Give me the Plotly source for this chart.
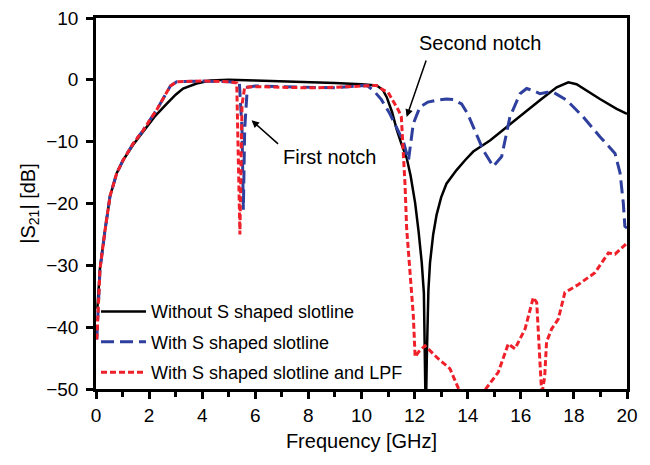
import plotly.graph_objects as go

# Without S shaped slotline
f_black = [0.05, 0.1, 0.15, 0.34, 0.53, 0.78, 1.02, 1.4, 1.77, 2.2, 2.66, 3.0, 3.28, 3.79, 4.3, 5.0,
           6.0, 7.0, 8.0, 9.0, 10.0, 10.57, 10.8, 10.95, 11.15, 11.33, 11.5, 11.7, 11.85, 12.02,
           12.15, 12.27, 12.35, 12.40, 12.42, 12.46, 12.52, 12.58, 12.7, 12.83, 13.0, 13.2, 13.58,
           13.9, 14.21, 14.84, 15.47, 16.09, 16.72, 17.35, 17.79, 18.1, 18.35, 18.98, 19.61, 20.0]
s_black = [-37, -33, -30.5, -24.3, -18.8, -15.1, -13, -10.5, -8.4, -6, -3.9, -2.4, -1.4, -0.6, -0.1, 0,
           -0.1, -0.2, -0.3, -0.5, -0.7, -0.9, -1.6, -2.8, -5.2, -8.1, -10.3, -12.6, -15.5, -19.9,
           -24.5, -29.6, -34.5, -45, -55, -45, -34, -29.6, -25, -21.8, -19, -16.8, -14.6,
           -13, -11.6, -9.8, -7.6, -5.5, -3.3, -1.2, -0.4, -0.7, -1.4, -3.1, -4.7, -5.5]

# With S shaped slotline
f_blue = [0.03, 0.08, 0.15, 0.34, 0.53, 0.78, 1.02, 1.4, 1.77, 2.28, 2.6, 2.8, 3.04, 4.0, 5.0, 5.4,
          5.5, 5.55, 5.6, 5.7, 6.0, 7.0, 8.0, 9.0, 9.5, 10.2, 10.45, 10.75, 11.07, 11.35, 11.58,
          11.77, 11.95, 12.2, 12.5, 12.83, 13.2, 13.46, 13.77, 14.0, 14.21, 14.59, 14.96, 15.28,
          15.59, 15.97, 16.22, 16.5, 16.72, 17.0, 17.22, 17.73, 18.35, 18.98, 19.55, 19.74, 19.86,
          19.92, 20.0]
s_blue = [-42, -36, -30.7, -24.3, -18.8, -15.1, -13, -10.3, -8.2, -4.9, -2.6, -1, -0.3, -0.2, -0.3, -0.5,
          -8, -21, -8, -1.2, -1, -1.1, -1.3, -1.3, -1.1, -0.9, -1.7, -3.2, -5.5, -8, -10,
          -13, -7.1, -4.4, -3.6, -3.3, -3.1, -3.2, -3.9, -5.5, -7.6, -11.4, -14, -12.4,
          -6, -2.25, -1.4, -1.8, -2.25, -2.0, -2.0, -3.3, -6, -9.2, -11.9, -15.1, -19.9,
          -23.7, -24]

# With S shaped slotline and LPF
f_red = [0.03, 0.08, 0.15, 0.34, 0.53, 0.78, 1.02, 1.4, 1.77, 2.28, 2.6, 2.8, 3.04, 4.0, 5.0, 5.3,
         5.42, 5.5, 5.6, 6.0, 7.0, 8.0, 9.0, 10.0, 10.57, 10.8, 11.0, 11.2, 11.39, 11.5, 11.58,
         11.64, 11.7, 11.83, 11.95, 12.02, 12.15, 12.39, 12.89, 13.33, 13.71, 14.59, 15.15,
         15.53, 15.78, 16.16, 16.47, 16.6, 16.72, 16.79, 16.9, 16.97, 17.16, 17.41, 17.66,
         18.17, 18.79, 19.3, 19.55, 20.0]
s_red = [-42, -36, -30.7, -24.3, -18.8, -15.1, -13, -10.3, -8.2, -4.9, -2.6, -1, -0.3, -0.2, -0.3, -0.5,
         -25, -4, -1.2, -1.1, -1.2, -1.3, -1.2, -1.0, -0.9, -1.6, -2.0, -3.5, -4.9, -6, -11.4,
         -17, -24, -31, -38, -44.8, -44, -43, -45.1, -46.7, -50.5, -50.5, -47.3,
         -42.7, -43.5, -40.3, -35.2, -36, -45, -51, -48, -42.4, -40.3, -38.7, -34.4,
         -33.1, -31.2, -28, -28.2, -26.4]

x_ticks = [0, 2, 4, 6, 8, 10, 12, 14, 16, 18, 20]
x_minor = [1, 3, 5, 7, 9, 11, 13, 15, 17, 19]
y_ticks = [-50, -40, -30, -20, -10, 0, 10]

FONT = "Arial, Liberation Sans, sans-serif"

fig = go.Figure()
fig.add_trace(go.Scatter(x=f_black, y=s_black, mode="lines", name="Without S shaped slotline",
                         line=dict(color="black", width=2.5), legendgroup="a"))
fig.add_trace(go.Scatter(x=f_blue, y=s_blue, mode="lines", name="With S shaped slotline",
                         line=dict(color="#2f3f9e", width=3, dash="13px,6px"), legendgroup="b"))
fig.add_trace(go.Scatter(x=f_red, y=s_red, mode="lines", name="With S shaped slotline and LPF",
                         line=dict(color="#f0202a", width=3, dash="6px,3px"), legendgroup="c"))

axis_common = dict(showline=True, linecolor="black", linewidth=2.5, mirror=True,
                   ticks="outside", tickwidth=2.5, ticklen=7, tickcolor="black",
                   showgrid=False, zeroline=False, ticklabeloverflow="allow",
                   tickfont=dict(family=FONT, size=19, color="black"))

fig.update_xaxes(range=[0, 20], tickvals=x_ticks, automargin="bottom",
                 minor=dict(tickvals=x_minor, ticks="outside",
                            ticklen=5, tickwidth=2.5, tickcolor="black"),
                 title=dict(text="Frequency [GHz]", font=dict(family=FONT, size=20, color="black"),
                            standoff=10),
                 **axis_common)
fig.update_yaxes(range=[-50, 10], tickvals=y_ticks, ticklabelstandoff=4, automargin="left",
                 title=dict(text="|S<sub>21</sub>| [dB]", font=dict(family=FONT, size=20, color="black"),
                            standoff=6),
                 **axis_common)

fig.add_annotation(x=5.86, y=-6.54, ax=28, ay=25, text="", showarrow=True,
                   arrowhead=2, arrowsize=1, arrowwidth=1.5, arrowcolor="black")
fig.add_annotation(x=8.78, y=-12.5, text="First notch", showarrow=False,
                   font=dict(family=FONT, size=20, color="black"))
fig.add_annotation(x=11.70, y=-6.0, ax=20, ay=-58, text="", showarrow=True,
                   arrowhead=2, arrowsize=1, arrowwidth=1.5, arrowcolor="black")
fig.add_annotation(x=14.46, y=6.0, text="Second notch", showarrow=False,
                   font=dict(family=FONT, size=20, color="black"))

fig.update_layout(
    width=642, height=457,
    margin=dict(l=88, r=23, t=10, b=76),
    paper_bgcolor="white", plot_bgcolor="white",
    showlegend=True,
    legend=dict(x=0.0, y=-0.006, xanchor="left", yanchor="bottom",
                bgcolor="rgba(0,0,0,0)", tracegroupgap=4,
                font=dict(family=FONT, size=18, color="black"),
                itemwidth=45),
)

fig.write_html("out.html")
